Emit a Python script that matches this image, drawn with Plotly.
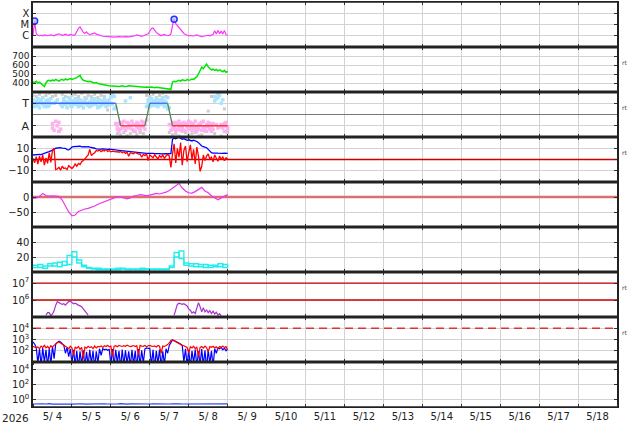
import numpy as np
import pandas as pd
import plotly.graph_objects as go
from plotly.subplots import make_subplots

start = pd.Timestamp('2026-05-04 00:00')
end = pd.Timestamp('2026-05-19 00:00')

# x-ray flux, hourly, in units of 1e-6 W/m2 (C1 = 1)
xray_c = [1.0, 20.0, 1.5, 1.1, 1.0, 1.1, 1.0, 1.2, 1.1, 1.0, 1.1, 1.2, 1.1, 1.0, 1.2, 1.3,
          1.5, 1.3, 1.1, 1.2, 1.4, 1.2, 1.1, 1.3, 1.2, 1.1, 1.3, 2.5, 4.5, 6.0, 3.5, 2.0,
          1.6, 2.2, 1.5, 1.3, 1.4, 1.6, 1.8, 1.4, 1.2, 1.1, 1.0, 0.9, 0.9, 0.85, 0.8, 0.8,
          0.85, 0.8, 0.75, 0.8, 0.8, 0.85, 0.8, 0.75, 0.8, 0.85, 0.8, 0.8, 0.85, 0.9, 0.85, 1.0,
          1.2, 1.1, 0.95, 0.9, 1.0, 1.1, 1.2, 1.5, 2.5, 4.5, 5.0, 3.0, 2.0, 1.5, 1.2, 1.0,
          1.2, 1.3, 1.1, 1.0, 1.1, 1.4, 8.0, 30.0, 12.0, 8.0, 5.0, 3.0, 2.2, 1.6, 1.3, 1.1,
          1.0, 1.05, 1.0, 0.95, 1.1, 1.2, 1.0, 0.9, 0.85, 0.9, 1.0, 0.95, 1.1, 1.0, 1.1, 1.3,
          2.8, 1.4, 3.0, 1.5, 2.6, 1.4, 3.0, 1.2, 1.1]
flare_hours = [1, 87]

# solar wind speed km/s, hourly
wind = [415, 405, 420, 400, 410, 395, 380, 360, 400, 425, 430, 420, 435, 425, 440, 430,
        420, 435, 440, 430, 445, 435, 440, 450, 440, 445, 455, 460, 475, 485, 450, 430,
        425, 420, 415, 420, 410, 405, 400, 405, 395, 390, 385, 380, 378, 375, 372, 370,
        368, 365, 362, 365, 360, 362, 365, 368, 362, 360, 365, 370, 368, 372, 365, 360,
        362, 358, 355, 358, 355, 352, 355, 350, 352, 355, 350, 348, 352, 350, 345, 342,
        345, 338, 335, 332, 335, 330, 410, 420, 415, 425, 430, 420, 435, 430, 425, 440,
        430, 435, 445, 440, 455, 470, 500, 540, 575, 560, 590, 610, 580, 560, 545, 555,
        540, 550, 535, 545, 530, 525, 540, 520, 530]

# sector samples (+ = toward, - = away), two hourly samples and a 2-hourly gray set
sector_p1 = [1.0, 0.9, 1.2, 0.8, 1.1, 1.3, 0.9, 1.0, 1.2, 0.7, 1.1, 1.4,
             -1.2, 1.0, -0.6, 1.3, -1.5, 0.9,
             1.0, 1.2, 0.9, 1.1, 1.5, 0.8, 1.0, 1.2, 1.1, 0.9, 1.3, 1.0, 0.8, 1.1, 1.2, 0.9,
             1.0, 1.1, 0.8, 1.2, 1.0, 0.9, 1.1, 0.7, 1.0, 1.2, 0.9, 1.1, 0.8, 1.3, 1.0, 0.9,
             1.6, 0.6,
             -1.0, -0.8, -1.3, -0.9, -1.1, 1.2, -0.7, -1.2, -1.0, -0.6, -1.4, -0.9, -1.1, -0.8,
             -1.2, -1.0, -0.7, -1.3, -0.5,
             1.0, 1.1, 0.9, 1.2, 1.0, 0.8, 1.1, 1.3, 0.9, 1.0, 1.2, 0.8, 1.5, 0.6,
             -0.9, -1.2, -1.0, -0.7, -1.3, -1.1, -0.8, -1.0, -1.4, -0.9, -1.1, -0.6, -1.2, -1.0,
             -0.8, -1.3, -1.1, -0.9, -1.0, -0.7, -1.2, -1.4, -0.9, -1.1, -0.8, -1.0, -1.3, 1.2,
             -0.9, 1.5, -1.1, 1.0, -1.2, -0.8, -1.0, -1.3]
sector_p2 = [1.3, 0.7, 0.8, 1.4, 0.6, 1.0, 1.5, 0.7, 0.9, 1.3, 0.8, 1.0,
             -0.8, -1.4, 1.1, -1.0, -0.7, -1.3,
             0.7, 1.4, 1.1, 0.6, 1.0, 1.3, 0.7, 0.9, 1.4, 1.1, 0.7, 1.3, 1.2, 0.6, 1.0, 1.4,
             0.8, 0.7, 1.3, 0.9, 1.4, 1.2, 0.6, 1.3, 0.8, 1.0, 1.4, 0.7, 1.2, 0.9, 1.5, 1.8,
             0.5, -0.8,
             -1.3, -1.5, -0.7, -1.2, -0.6, -1.4, -1.1, -0.8, 1.5, -1.3, -0.9, -1.5, -0.7, -1.2,
             -1.4, -0.6, -1.1, -0.9, 0.7,
             1.3, 0.7, 1.4, 0.8, 1.2, 1.4, 0.7, 0.9, 1.3, 1.5, 0.7, 1.1, 0.5, -0.9,
             -1.4, -0.7, -1.3, -1.5, -0.8, -0.6, -1.4, -1.2, -0.7, -1.5, -0.8, -1.3, -0.7, -1.4,
             -1.2, -0.6, -1.5, -1.3, -0.8, -1.4, -0.6, -1.1, -1.5, -0.7, -1.3, -1.5, -0.8, 1.6,
             1.4, -1.2, 1.7, -0.9, 1.3, -1.5, -0.7, -1.1]
sector_gray = [1.7, 1.6, 1.8, 1.5, 1.7, 1.9, 1.6, 1.7, -1.5, 1.8, 1.6, 1.5, 1.7, 1.8, 1.6, 1.9,
               1.5, 1.7, 1.6, 1.8, 1.5, 1.7, 1.6, 0.4, 1.8, 1.6, -1.7, -1.8, -1.6, -1.9, -1.7,
               -1.5, -1.8, -1.6, -1.7, 1.7, 1.6, 1.8, 1.5, 1.7, 1.9, 1.6, -1.6, -1.8, -1.7, -1.9,
               -1.5, -1.6, -1.8, -1.7, -1.6, -1.9, -1.8, -1.5, 0.3, 1.6, -1.7, 1.8, -1.9, 0.5, -1.6]
sector_hours = [0, 51, 54, 69, 72, 83, 86, 120]
sector_state = [1, 1, -1, -1, 1, 1, -1, -1]

# IMF Bt and Bz, nT, hourly
bt = [4.0, 4.2, 3.8, 4.1, 4.5, 4.3,
      5.0, 5.5, 6.0, 6.5, 7.0, 7.5, 8.0, 9.0,
      10.0, 10.2, 9.8, 10.5, 10.1, 10.3, 9.9,
      8.7, 8.5, 9.5,
      11.0, 11.4, 11.6, 11.2, 11.5, 11.8, 11.3, 11.6, 11.4, 11.2, 11.5, 11.0, 10.8, 10.5, 10.0,
      9.5, 9.3, 9.6, 9.2, 9.4, 9.1, 9.3, 9.0, 9.2, 8.9, 9.0, 8.7, 8.5,
      8.3, 8.2, 8.0, 7.8, 7.9, 7.6, 7.5, 7.3, 7.2, 7.0, 6.8, 6.6, 6.4, 6.2,
      6.0, 5.8, 5.6, 5.7, 5.5, 5.4, 5.6, 5.3, 5.5, 5.2, 5.4, 5.1, 5.3, 5.0, 5.2, 5.0, 5.3, 5.1,
      5.0, 5.2,
      18.0, 19.0, 18.5, 19.5, 20.0, 19.0, 18.0, 18.5, 17.5, 17.0, 17.5,
      17.0, 16.5, 17.2, 16.8, 16.0, 15.0,
      13.0, 12.0, 11.5, 11.0, 10.5, 9.0,
      7.0, 6.0, 5.8, 5.5, 5.7, 5.6, 5.4, 5.8, 5.5, 5.7, 5.6, 5.5]
bz = [1.0, -3.0, 2.5, -4.0, 3.0, -2.0, 4.0, -5.0, 1.5, -3.5, 6.0, -2.5, 8.0,
      10.0, -9.0,
      -8.5, -7.0, -9.5, -6.0, -8.0, -7.5, -9.0, -5.5, -7.0, -8.0, -6.5, -4.0, -6.0, -3.5,
      -4.5, -2.0, -1.0, 1.0, 2.5, 4.0, 9.0, 3.5, 5.0, 6.0,
      8.0, 7.5, 8.5, 7.0, 8.0, 7.5, 8.8, 7.2, 7.8, 6.9, 7.5, 7.0, 6.8,
      7.0, 6.5, 7.2, 6.0, 6.8, 5.5, 6.5, 3.0, 6.0, 5.8, 5.0, 6.2, 5.5, 4.8,
      5.0, 2.0, 4.5, 3.5, 5.0, -1.0, 4.0, 3.0, 1.5, 4.2, 2.8, 0.5, 3.5, 2.0, 4.0, 1.0, 3.2,
      4.5, 3.0, -7.0,
      5.0, 14.0, -3.0, 10.0, 2.0, 15.0, -5.0, 8.0, 12.0, -2.0, 6.0, 13.0, 0.0, 9.0, -4.0,
      11.0, 3.0,
      -10.5, -6.0,
      4.0, -1.0, 3.0, 5.0, 0.5, 2.0, -2.0, 4.0, 1.0, -1.5, 3.0, 0.0, 2.5, -1.0, 1.5, 0.5]

# Dst nT, every 2 h
dst = [-4, -3, 2, 12, 5, 3, 4, 3, 2, -10, -30, -50, -63, -60, -48, -43, -40, -38, -35, -30,
       -24, -20, -16, -12, -8, -3, 1, 0, -4, -6, -3, 3, 5, 8, 6, 4, 6, 9, 12, 10, 13, 16, 22,
       30, 38, 45, 30, 20, 14, 13, 18, 25, 32, 20, 14, 4, -2, -9, -3, 3, 8]

# activity index, two 3-hourly series
act_a = [6, 10, 5, 8, 12, 7, 14, 10, 27, 16, 9, 6, 4, 5, 3, 4, 3, 5, 4, 3, 4, 3, 5, 4, 3,
         4, 3, 4, 6, 20, 28, 12, 8, 11, 7, 10, 6, 9, 7, 10, 8]
act_b = [9, 6, 8, 11, 8, 13, 9, 22, 20, 12, 7, 5, 5, 3, 4, 3, 4, 3, 5, 4, 3, 4, 3, 4, 4,
         3, 4, 3, 8, 26, 18, 9, 11, 7, 10, 6, 9, 7, 11, 6, 9]

# electron flux, hourly (None = no data)
electron = ([None] * 8 +
            [1.3e5, 1.8e5, 1.8e5, 1.2e5, 1.5e5, 2.3e5, 5.0e5, 8.0e5, 7.0e5, 6.5e5, 5.5e5,
             6.0e5, 5.0e5, 6.5e5, 8.0e5, 8.5e5, 7.0e5, 6.0e5, 6.5e5, 5.5e5, 5.0e5, 4.5e5,
             4.0e5, 3.0e5, 2.2e5, 1.6e5, 1.3e5] +
            [None] * 52 +
            [1.3e5, 3.0e5, 5.5e5, 6.5e5, 6.0e5, 5.5e5, 6.0e5, 5.0e5, 4.5e5, 3.0e5, 2.5e5,
             1.7e5, 2.0e5, 1.6e5, 3.5e5, 7.0e5, 4.0e5, 2.0e5, 3.5e5, 2.0e5, 2.6e5, 1.8e5,
             2.4e5, 1.6e5, 2.2e5, 1.5e5, 1.9e5, 1.3e5, 1.6e5, 1.2e5] +
            [None] * 4)

# particle flux, two channels, hourly
flux_blue = [600, 400,
             200, 8, 150, 5, 180, 10, 120, 4, 160, 6, 250, 20,
             400, 500, 700, 600, 450,
             300, 60, 200, 30, 150,
             8, 120, 5, 100, 3, 90, 6, 110, 4, 80, 5, 120, 7, 100, 3, 90, 8, 150, 40,
             150, 120, 140, 110, 130,
             6, 140, 4, 120, 8, 100, 3, 130, 5, 110, 7, 90, 4, 120, 6, 100, 3, 140, 5, 110, 8, 150,
             180, 160, 170,
             5, 120, 3, 100, 7, 130, 4, 90, 6, 150, 60,
             300, 500, 900, 800, 700, 600, 500, 400, 300,
             10, 150, 5, 120, 3, 100, 8, 130, 4, 90, 6, 140, 5, 110, 3, 120, 7, 100, 4, 150, 60,
             180, 150, 200, 120, 170, 100, 140]
flux_red = [250, 200, 180, 220, 150, 260, 200, 300, 180, 240, 160, 280, 220, 300,
            450, 550, 600, 500, 400, 300, 250,
            200, 150, 250, 180, 40, 220, 160, 240, 130, 200, 20, 210, 170, 250, 190, 230, 150,
            260, 180, 240,
            220, 260, 200, 280, 240, 300, 220, 260, 30, 250, 280, 230, 300, 260, 240, 280, 250,
            310, 270, 230,
            260, 290, 240, 280, 40, 300, 260, 250, 290, 230, 280, 300, 260, 240, 270, 220, 290,
            250, 60, 260, 240, 280, 350,
            500, 800, 900, 750, 650, 500, 400, 350, 300, 280,
            250, 200, 60, 230, 180, 250, 150, 220, 30, 200, 240, 170, 260, 190, 80, 230, 200,
            250, 180, 220, 150, 240, 200, 260, 190, 230, 120]

# bottom channel, every 2 h
low_flux = [0.25, 0.27, 0.24, 0.26, 0.25, 0.28, 0.24, 0.25, 0.27, 0.26, 0.29, 0.25, 0.24,
            0.26, 0.25, 0.27, 0.24, 0.25, 0.26, 0.25, 0.24, 0.26, 0.27, 0.25, 0.24, 0.26,
            0.25, 0.28, 0.25, 0.24, 0.26, 0.25, 0.27, 0.25, 0.24, 0.26, 0.25, 0.27, 0.26,
            0.24, 0.25, 0.26, 0.25, 0.27, 0.24, 0.26, 0.25, 0.25, 0.27, 0.24, 0.26, 0.25,
            0.24, 0.26, 0.25, 0.27, 0.25, 0.24, 0.26, 0.25, 0.26]


def times(vals, step_h):
    return start + pd.to_timedelta(np.arange(len(vals)) * step_h, unit='h')


def hline(fig, row, y, color, width, dash='solid'):
    fig.add_trace(go.Scatter(x=[start, end], y=[y, y], mode='lines',
                             line=dict(color=color, width=width, dash=dash),
                             hoverinfo='skip'), row=row, col=1)


fig = make_subplots(rows=9, cols=1, shared_xaxes=True, vertical_spacing=0)

# 1 x-ray
xray = [v * 1e-6 for v in xray_c]
fig.add_trace(go.Scatter(x=times(xray, 1), y=xray, mode='lines',
                         line=dict(color='#ff33ff', width=1.2)), row=1, col=1)
fig.add_trace(go.Scatter(x=[start + pd.Timedelta(hours=h) for h in flare_hours],
                         y=[xray[h] for h in flare_hours], mode='markers',
                         marker=dict(symbol='circle', size=6, color='rgba(190,190,255,0.7)',
                                     line=dict(color='#2233ff', width=1.5))), row=1, col=1)

# 2 wind
fig.add_trace(go.Scatter(x=times(wind, 1), y=wind, mode='lines',
                         line=dict(color='#00e600', width=1.5)), row=2, col=1)

# 3 sector
hline(fig, 3, 0, '#777777', 1)
tg = times(sector_gray, 2)
fig.add_trace(go.Scatter(x=tg, y=sector_gray, mode='markers',
                         marker=dict(symbol='square', size=3, color='#cccccc')), row=3, col=1)
th = times(sector_p1, 1)
for vals in (sector_p1, sector_p2):
    pos = [v if v > 0 else None for v in vals]
    neg = [v if v < 0 else None for v in vals]
    fig.add_trace(go.Scatter(x=th, y=pos, mode='markers',
                             marker=dict(symbol='square', size=3.5, color='#a8e4ff')), row=3, col=1)
    fig.add_trace(go.Scatter(x=th, y=neg, mode='markers',
                             marker=dict(symbol='square', size=3.5, color='#ffb0ee')), row=3, col=1)
for i in range(len(sector_hours) - 1):
    s0, s1 = sector_state[i], sector_state[i + 1]
    c = '#4466ff' if s0 == s1 == 1 else ('#ff3333' if s0 == s1 == -1 else '#558855')
    fig.add_trace(go.Scatter(x=[start + pd.Timedelta(hours=sector_hours[i]),
                                start + pd.Timedelta(hours=sector_hours[i + 1])],
                             y=[s0, s1], mode='lines', line=dict(color=c, width=1.3)),
                  row=3, col=1)

# 4 IMF
hline(fig, 4, 0, '#cc0000', 1.5)
fig.add_trace(go.Scatter(x=times(bt, 1), y=bt, mode='lines',
                         line=dict(color='#0000ff', width=1.3)), row=4, col=1)
fig.add_trace(go.Scatter(x=times(bz, 1), y=bz, mode='lines',
                         line=dict(color='#ff0000', width=1.3)), row=4, col=1)

# 5 Dst
hline(fig, 5, 0, '#d87070', 2.5)
fig.add_trace(go.Scatter(x=times(dst, 2), y=dst, mode='lines',
                         line=dict(color='#ee33ee', width=1.2)), row=5, col=1)

# 6 activity
for vals in (act_a, act_b):
    fig.add_trace(go.Scatter(x=times(vals, 3), y=vals, mode='lines', line_shape='hv',
                             line=dict(color='#22eeee', width=1.3)), row=6, col=1)

# 7 electrons
hline(fig, 7, 1e7, '#cc0000', 1.3)
hline(fig, 7, 1e6, '#cc0000', 1.3)
fig.add_trace(go.Scatter(x=times(electron, 1), y=electron, mode='lines',
                         line=dict(color='#aa33cc', width=1.2)), row=7, col=1)

# 8 particles
hline(fig, 8, 1e4, '#dd3333', 1.5, dash='8px,5px')
fig.add_trace(go.Scatter(x=times(flux_blue, 1), y=flux_blue, mode='lines',
                         line=dict(color='#0000ff', width=1.2)), row=8, col=1)
fig.add_trace(go.Scatter(x=times(flux_red, 1), y=flux_red, mode='lines',
                         line=dict(color='#ff0000', width=1.2)), row=8, col=1)

# 9 low channel
fig.add_trace(go.Scatter(x=times(low_flux, 2), y=low_flux, mode='lines',
                         line=dict(color='#2244ff', width=1.2)), row=9, col=1)

fig.update_xaxes(type='date', range=[start, end], tick0=start, dtick=86400000,
                 ticks='inside', ticklen=3, tickcolor='#333333',
                 showgrid=True, gridcolor='#d3d3d3', gridwidth=1,
                 showline=True, linecolor='#222222', linewidth=1, mirror='allticks')
fig.update_xaxes(showticklabels=True, ticklabelmode='period', tickformat='%-m/%e',
                 row=9, col=1)

fig.update_yaxes(showgrid=True, gridcolor='#d3d3d3', zeroline=False,
                 showline=True, linecolor='#222222', linewidth=1.5, mirror='allticks',
                 ticks='inside', ticklen=3, tickcolor='#333333', fixedrange=True)

sup = lambda n: '10<sup>%d</sup>' % n
fig.update_yaxes(type='log', range=[-7, -3], tickvals=[1e-6, 1e-5, 1e-4],
                 ticktext=['C', 'M', 'X'], row=1, col=1)
fig.update_yaxes(range=[300, 800], tickvals=[400, 500, 600, 700],
                 tickfont=dict(size=9), row=2, col=1)
fig.update_yaxes(range=[-2, 2], tickvals=[-1, 1], ticktext=['A', 'T'],
                 tickfont=dict(size=11), row=3, col=1)
fig.update_yaxes(range=[-20, 20], tickvals=[-10, 0, 10], row=4, col=1)
fig.update_yaxes(range=[-100, 50], tickvals=[-50, 0], row=5, col=1)
fig.update_yaxes(range=[0, 60], tickvals=[20, 40], row=6, col=1)
fig.update_yaxes(type='log', range=[5, 7.65], tickvals=[1e6, 1e7],
                 ticktext=[sup(6), sup(7)], row=7, col=1)
fig.update_yaxes(type='log', range=[1, 5], tickvals=[1e2, 1e3, 1e4],
                 ticktext=[sup(2), sup(3), sup(4)], row=8, col=1)
fig.update_yaxes(type='log', range=[-1, 5], tickvals=[1, 1e2, 1e4],
                 ticktext=[sup(0), sup(2), sup(4)], row=9, col=1)

# panel separators
shapes = []
for k in range(1, 9):
    shapes.append(dict(type='line', xref='paper', yref='paper', x0=0, x1=1, y0=k / 9, y1=k / 9,
                       line=dict(color='#222222', width=3)))
for k in (0, 9):
    shapes.append(dict(type='line', xref='paper', yref='paper', x0=0, x1=1, y0=k / 9, y1=k / 9,
                       line=dict(color='#222222', width=1.5)))

annotations = [dict(text='2026', xref='paper', yref='paper', x=0, y=0, xanchor='right',
                    yanchor='top', xshift=-2, yshift=-3, showarrow=False,
                    font=dict(size=10.5, color='#222222'))]
for r in (2, 3, 4, 7, 8):
    yr = 'y domain' if r == 1 else 'y%d domain' % r
    annotations.append(dict(text='rt', xref='paper', yref=yr, x=1, y=0.78, xanchor='left',
                            xshift=3, showarrow=False, font=dict(size=6, color='#444444')))

fig.update_layout(width=634, height=424, margin=dict(l=33, r=17, t=2, b=17),
                  plot_bgcolor='white', paper_bgcolor='white', showlegend=False,
                  font=dict(family='DejaVu Sans', size=10, color='#222222'),
                  shapes=shapes, annotations=annotations)

# the page body has a default 8px margin; drop it so the figure sits at the corner
fig.write_html("out.html", config={'displayModeBar': False},
               post_script="document.body.style.margin='0';")
